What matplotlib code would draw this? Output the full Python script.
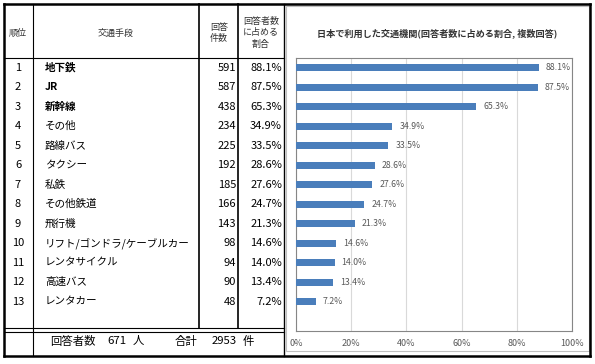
import matplotlib.pyplot as plt
from matplotlib.lines import Line2D
from matplotlib.patches import Rectangle

plt.rcParams['font.family'] = ['Noto Sans CJK JP', 'DejaVu Sans']

ranks = list(range(1, 14))
modes = ["地下鉄", "JR", "新幹線", "その他", "路線バス", "タクシー", "私鉄", "その他鉄道",
         "飛行機", "リフト/ゴンドラ/ケーブルカー", "レンタサイクル", "高速バス", "レンタカー"]
counts = [591, 587, 438, 234, 225, 192, 185, 166, 143, 98, 94, 90, 48]
shares = [88.1, 87.5, 65.3, 34.9, 33.5, 28.6, 27.6, 24.7, 21.3, 14.6, 14.0, 13.4, 7.2]
respondents = 671
total = 2953
title = "日本で利用した交通機関(回答者数に占める割合, 複数回答)"

W, H = 595, 364
fig = plt.figure(figsize=(W / 100, H / 100), dpi=100)

# background axes in pixel coordinates for the table
bg = fig.add_axes([0, 0, 1, 1])
bg.set_xlim(0, W)
bg.set_ylim(H, 0)
bg.axis("off")

def line(x0, y0, x1, y1, lw=0.8, color="black"):
    bg.add_line(Line2D([x0, x1], [y0, y1], lw=lw, color=color))

# chart area box
bg.add_patch(Rectangle((286, 6), 303, 345, fill=False, ec="#BFBFBF", lw=0.8))

# outer frame
left, top, right, bottom = 4, 4, 590, 356
line(left, top, right, top, lw=1.8)
line(left, bottom, right, bottom, lw=1.8)
line(left, top, left, bottom, lw=1.8)
line(right, top, right, bottom, lw=1.8)

# table grid
line(33, top, 33, bottom, lw=0.8)
line(199, top, 199, 328, lw=1.2)
line(238, top, 238, 328, lw=1.2)
line(284, top, 284, bottom, lw=1.0)
line(left, 58, 284, 58, lw=0.8)
line(left, 328, 284, 328, lw=0.8)
line(left, 332, 284, 332, lw=0.8)

# header
hs = 6.5
hc = "#333333"
bg.text(18, 33, "順位", ha="center", va="center", fontsize=hs, color=hc)
bg.text(116, 33, "交通手段", ha="center", va="center", fontsize=hs, color=hc)
bg.text(219, 33, "回答\n件数", ha="center", va="center", fontsize=hs, color=hc, linespacing=1.3)
bg.text(261, 33, "回答者数\nに占める\n割合", ha="center", va="center", fontsize=hs, color=hc,
        linespacing=1.3)

# rows
row0, step = 67.75, 19.5
for i in range(len(modes)):
    y = row0 + step * i
    weight = "bold" if i < 3 else "normal"
    bg.text(18, y, str(ranks[i]), ha="center", va="center", fontsize=8)
    bg.text(45, y, modes[i], ha="left", va="center", fontsize=7.6, fontweight=weight)
    bg.text(236, y, str(counts[i]), ha="right", va="center", fontsize=8)
    bg.text(282, y, f"{shares[i]:.1f}%", ha="right", va="center", fontsize=8)

# summary row
sy = 341
bg.text(50, sy, "回答者数", ha="left", va="center", fontsize=8.2)
bg.text(107, sy, str(respondents), ha="left", va="center", fontsize=8.2)
bg.text(133, sy, "人", ha="left", va="center", fontsize=8.2)
bg.text(175, sy, "合計", ha="left", va="center", fontsize=8.2)
bg.text(212, sy, str(total), ha="left", va="center", fontsize=8.2)
bg.text(243, sy, "件", ha="left", va="center", fontsize=8.2)

# chart title
bg.text(437, 33, title, ha="center", va="center", fontsize=6.6, fontweight="bold", color="#333333")

# bar chart
ax = fig.add_axes([296 / W, 1 - 331 / H, (572 - 296) / W, (331 - 58) / H])
ypos = list(range(len(modes)))
ax.barh(ypos, shares, height=0.38, color="#4A7EBB", zorder=3)
for y, v in zip(ypos, shares):
    ax.annotate(f"{v:.1f}%", (v, y), xytext=(5, 0), textcoords="offset points",
                ha="left", va="center", fontsize=6.3, color="#595959")
ax.set_xlim(0, 100)
ax.set_ylim(len(modes) + 0.5, -0.5)
ax.set_yticks([])
ax.set_xticks([0, 20, 40, 60, 80, 100])
ax.set_xticklabels(["0%", "20%", "40%", "60%", "80%", "100%"], fontsize=6.5, color="#595959")
ax.tick_params(axis="x", length=0, pad=6)
ax.grid(axis="x", color="#D9D9D9", lw=0.8, zorder=0)
for s in ax.spines.values():
    s.set_color("#868686")
    s.set_linewidth(0.8)

fig.savefig("out.png", dpi=100)
